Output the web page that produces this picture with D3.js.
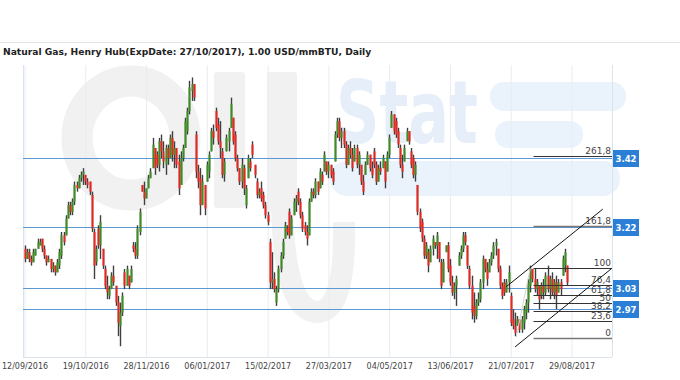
<!DOCTYPE html>
<html>
<head>
<meta charset="utf-8">
<script src="https://cdn.jsdelivr.net/npm/d3@7"></script>
<style>
body { margin: 0; background: #fff; }
svg text { font-family: "DejaVu Sans", Verdana, sans-serif; }
</style>
</head>
<body>
<div id="gas_chart"></div>
<script>
var width = 680, height = 380;
var plotLeft = 23, plotRight = 612, plotTop = 65, plotBottom = 357;

var title = "Natural Gas, Henry Hub(ExpDate: 27/10/2017), 1.00 USD/mmBTU, Daily";

// x axis labels, every 28 bars
var tickIndex = [0, 28, 56, 84, 112, 140, 168, 196, 224, 252];
var tickLabels = ["12/09/2016", "19/10/2016", "28/11/2016", "06/01/2017", "15/02/2017",
                  "27/03/2017", "04/05/2017", "13/06/2017", "21/07/2017", "29/08/2017"];

// daily OHLC
var opens = [
 3.15,3.12,3.14,3.12,3.11,3.13,3.15,3.16,3.18,3.15, 3.13,3.11,3.12,3.09,3.10,3.08,3.10,3.13,3.19,3.19,
 3.24,3.28,3.26,3.29,3.34,3.33,3.36,3.37,3.37,3.35, 3.35,3.31,3.20,3.11,3.21,3.16,3.15,3.09,3.04,3.01,
 3.03,3.07,3.04,2.99,2.92,2.96,3.08,3.04,3.07,3.05, 3.16,3.15,3.13,3.20,3.34,3.32,3.30,3.33,3.36,3.39,
 3.45,3.43,3.40,3.47,3.44,3.40,3.45,3.42,3.48,3.43, 3.45,3.41,3.34,3.42,3.45,3.50,3.56,3.62,3.64,3.49,
 3.38,3.36,3.28,3.34,3.35,3.38,3.44,3.50,3.56,3.52, 3.47,3.44,3.37,3.44,3.47,3.51,3.54,3.49,3.42,3.39,
 3.35,3.39,3.28,3.36,3.41,3.46,3.40,3.35,3.31,3.33, 3.31,3.28,3.25,3.17,3.05,3.06,2.99,3.03,3.09,3.13,
 3.18,3.21,3.26,3.19,3.25,3.29,3.32,3.29,3.25,3.22, 3.20,3.19,3.29,3.32,3.31,3.35,3.33,3.37,3.38,3.41,
 3.38,3.40,3.38,3.41,3.49,3.53,3.48,3.50,3.46,3.40, 3.45,3.43,3.41,3.45,3.40,3.40,3.35,3.37,3.40,3.43,
 3.39,3.44,3.40,3.35,3.39,3.39,3.41,3.38,3.43,3.51, 3.55,3.53,3.50,3.45,3.40,3.41,3.47,3.50,3.44,3.42,
 3.37,3.34,3.26,3.23,3.18,3.13,3.14,3.11,3.15,3.17, 3.16,3.17,3.11,3.05,3.14,3.16,3.10,3.05,3.02,3.04,
 3.10,3.13,3.15,3.19,3.16,3.09,3.04,2.98,2.95,2.99, 3.00,3.05,3.12,3.09,3.08,3.11,3.13,3.16,3.15,3.09,
 3.04,3.05,3.02,3.05,3.01,2.94,2.92,2.92,2.94,2.91, 2.93,2.96,2.99,3.04,3.09,3.06,3.03,3.04,3.01,3.04,
 3.02,3.07,3.03,3.06,3.02,3.05,3.02,3.05,3.07,3.10, 3.10];
var highs = [
 3.16,3.15,3.15,3.13,3.15,3.15,3.18,3.18,3.18,3.16, 3.13,3.13,3.12,3.11,3.10,3.12,3.15,3.20,3.20,3.25,
 3.29,3.29,3.30,3.35,3.35,3.37,3.38,3.39,3.37,3.36, 3.35,3.32,3.21,3.16,3.22,3.25,3.15,3.10,3.07,3.04,
 3.08,3.10,3.04,3.01,2.99,3.02,3.09,3.10,3.07,3.10, 3.17,3.17,3.22,3.27,3.34,3.35,3.33,3.37,3.39,3.48,
 3.45,3.44,3.48,3.49,3.47,3.46,3.46,3.49,3.50,3.47, 3.45,3.43,3.44,3.46,3.54,3.57,3.65,3.66,3.64,3.50,
 3.40,3.39,3.37,3.34,3.41,3.44,3.51,3.52,3.57,3.54, 3.53,3.45,3.42,3.49,3.51,3.60,3.54,3.50,3.43,3.39,
 3.42,3.40,3.34,3.43,3.42,3.47,3.40,3.36,3.33,3.35, 3.32,3.29,3.26,3.18,3.14,3.08,3.04,3.10,3.14,3.18,
 3.23,3.22,3.27,3.25,3.30,3.31,3.33,3.30,3.26,3.23, 3.22,3.30,3.33,3.33,3.36,3.35,3.39,3.38,3.44,3.41,
 3.41,3.40,3.39,3.50,3.54,3.54,3.51,3.51,3.47,3.46, 3.47,3.45,3.46,3.46,3.44,3.40,3.37,3.41,3.44,3.43,
 3.41,3.45,3.41,3.40,3.41,3.43,3.41,3.44,3.49,3.56, 3.55,3.54,3.51,3.46,3.43,3.46,3.51,3.50,3.45,3.43,
 3.41,3.34,3.27,3.24,3.19,3.17,3.15,3.16,3.19,3.17, 3.20,3.17,3.12,3.12,3.16,3.17,3.12,3.07,3.05,3.07,
 3.14,3.16,3.20,3.20,3.16,3.10,3.07,3.02,3.00,3.02, 3.06,3.13,3.12,3.11,3.12,3.14,3.17,3.18,3.15,3.10,
 3.05,3.06,3.06,3.10,3.02,2.97,2.96,2.95,2.94,2.95, 2.98,3.00,3.06,3.10,3.09,3.09,3.06,3.04,3.05,3.06,
 3.08,3.10,3.07,3.08,3.06,3.07,3.06,3.06,3.13,3.15, 3.10];
var lows = [
 3.11,3.12,3.11,3.10,3.11,3.13,3.15,3.16,3.14,3.12, 3.10,3.11,3.08,3.08,3.07,3.08,3.09,3.12,3.16,3.19,
 3.24,3.25,3.25,3.28,3.32,3.33,3.35,3.34,3.34,3.33, 3.31,3.20,3.06,3.10,3.15,3.12,3.09,3.03,3.00,3.00,
 3.03,3.04,2.98,2.89,2.86,2.95,3.03,3.04,3.03,3.05, 3.14,3.12,3.12,3.19,3.32,3.28,3.30,3.33,3.36,3.39,
 3.37,3.39,3.38,3.42,3.39,3.37,3.40,3.42,3.41,3.39, 3.39,3.31,3.34,3.41,3.45,3.49,3.55,3.59,3.59,3.36,
 3.33,3.25,3.28,3.25,3.35,3.36,3.44,3.46,3.50,3.46, 3.42,3.36,3.35,3.44,3.44,3.51,3.46,3.41,3.38,3.34,
 3.33,3.31,3.27,3.36,3.38,3.42,3.36,3.30,3.30,3.29, 3.27,3.24,3.22,3.03,3.03,3.02,2.98,3.02,3.08,3.12,
 3.18,3.19,3.18,3.19,3.25,3.26,3.28,3.24,3.20,3.19, 3.16,3.19,3.29,3.30,3.30,3.31,3.33,3.34,3.38,3.37,
 3.36,3.36,3.34,3.41,3.48,3.47,3.45,3.45,3.39,3.40, 3.42,3.38,3.41,3.39,3.37,3.34,3.31,3.37,3.40,3.38,
 3.36,3.39,3.34,3.35,3.37,3.39,3.33,3.38,3.42,3.51, 3.49,3.48,3.45,3.39,3.36,3.41,3.47,3.46,3.39,3.36,
 3.35,3.25,3.20,3.17,3.12,3.12,3.08,3.11,3.13,3.15, 3.12,3.11,3.03,3.05,3.14,3.08,3.04,3.01,3.00,2.98,
 3.10,3.12,3.14,3.16,3.09,3.03,2.94,2.93,2.94,2.98, 2.99,3.03,3.08,3.04,3.08,3.10,3.12,3.13,3.08,3.03,
 3.00,3.01,3.02,3.02,2.92,2.91,2.89,2.92,2.90,2.90, 2.91,2.94,2.96,3.02,3.05,3.02,3.01,2.97,3.00,3.00,
 3.01,3.02,3.00,3.01,3.00,2.97,3.02,3.01,3.07,3.08, 3.04];
var closes = [
 3.12,3.14,3.12,3.11,3.14,3.15,3.17,3.17,3.15,3.13, 3.11,3.12,3.09,3.10,3.08,3.11,3.14,3.19,3.17,3.24,
 3.28,3.26,3.29,3.34,3.33,3.36,3.37,3.38,3.35,3.34, 3.32,3.21,3.10,3.15,3.16,3.23,3.10,3.04,3.02,3.03,
 3.07,3.05,2.99,2.93,2.96,3.01,3.04,3.09,3.04,3.09, 3.15,3.13,3.21,3.26,3.32,3.30,3.33,3.36,3.38,3.46,
 3.39,3.40,3.47,3.44,3.41,3.45,3.42,3.48,3.43,3.45, 3.40,3.33,3.42,3.45,3.53,3.56,3.63,3.64,3.60,3.38,
 3.35,3.28,3.35,3.27,3.40,3.43,3.50,3.48,3.51,3.47, 3.45,3.37,3.41,3.48,3.50,3.58,3.47,3.42,3.39,3.35,
 3.40,3.33,3.33,3.42,3.39,3.43,3.37,3.31,3.32,3.30, 3.28,3.25,3.23,3.05,3.06,3.03,3.03,3.09,3.13,3.17,
 3.22,3.20,3.19,3.24,3.29,3.30,3.29,3.25,3.21,3.20, 3.18,3.29,3.32,3.31,3.35,3.32,3.38,3.35,3.43,3.38,
 3.40,3.37,3.35,3.49,3.53,3.48,3.50,3.46,3.40,3.45, 3.43,3.39,3.45,3.40,3.43,3.35,3.32,3.40,3.43,3.39,
 3.37,3.40,3.35,3.39,3.38,3.42,3.35,3.43,3.48,3.55, 3.50,3.49,3.46,3.40,3.38,3.45,3.50,3.47,3.40,3.37,
 3.40,3.26,3.21,3.18,3.13,3.16,3.10,3.15,3.18,3.16, 3.19,3.12,3.04,3.11,3.16,3.09,3.05,3.02,3.04,3.06,
 3.13,3.15,3.19,3.17,3.10,3.04,2.96,2.95,2.99,3.00, 3.05,3.12,3.09,3.06,3.11,3.13,3.16,3.17,3.09,3.04,
 3.01,3.02,3.05,3.08,2.93,2.92,2.90,2.94,2.91,2.94, 2.97,2.99,3.05,3.09,3.06,3.03,3.05,3.00,3.04,3.02,
 3.07,3.03,3.06,3.02,3.05,3.01,3.05,3.03,3.12,3.14, 3.05];

// horizontal levels with price tags
var levels = [3.421, 3.216, 3.032, 2.970];

// fibonacci extension (from low to high of the last swing)
var fibLow = 2.886, fibHigh = 3.092, fibStart = 234.5;
var fibRatios = [0, 23.6, 38.2, 50, 61.8, 76.4, 100, 161.8, 261.8];

// trend channel, [bar index, price]
var channelUpper = [[221.9, 3.037], [266.4, 3.268]];
var channelLower = [[226.0, 2.858], [270.6, 3.092]];
var fibAnchor = [[226.5, 2.886], [233.0, 3.092]];

var svg = d3.select("#gas_chart")
    .append("svg")
    .attr("width", width)
    .attr("height", height);

var x = d3.scaleLinear().domain([0, 252]).range([24.5, 571.5]);
var y = d3.scaleLinear().domain([2.828, 3.697]).range([plotBottom, plotTop]);

// title ------------------------------------------------------------
svg.append("line")
    .attr("x1", 0).attr("x2", width)
    .attr("y1", 42.5).attr("y2", 42.5)
    .attr("stroke", "#e4e4e4");

var t = svg.append("text")
    .attr("x", 3).attr("y", 55)
    .attr("font-size", 10)
    .attr("font-weight", "bold")
    .attr("fill", "#222")
    .text(title);
var tl = t.node().getComputedTextLength();
t.attr("font-size", 10 * 369 / tl);

// watermark (logo behind the plot) ---------------------------------
var wm = svg.append("g");
var grey = "#f1f1f1", pale = "#eaf2fb";
wm.append("ellipse")
    .attr("cx", 131).attr("cy", 138).attr("rx", 54).attr("ry", 57)
    .attr("fill", "none").attr("stroke", grey).attr("stroke-width", 31);
wm.append("rect").attr("x", 214).attr("y", 72).attr("width", 31).attr("height", 136)
    .attr("rx", 3).attr("fill", grey);
wm.append("rect").attr("x", 267).attr("y", 72).attr("width", 30).attr("height", 140)
    .attr("rx", 3).attr("fill", grey);
wm.append("path")
    .attr("d", "M282,205 Q284,312 318,312 Q346,310 344,222")
    .attr("fill", "none").attr("stroke", grey).attr("stroke-width", 22);
wm.append("rect").attr("x", 490).attr("y", 82).attr("width", 136).attr("height", 29)
    .attr("rx", 14).attr("fill", pale);
wm.append("rect").attr("x", 495).attr("y", 121).attr("width", 88).attr("height", 27)
    .attr("rx", 13).attr("fill", pale);
wm.append("rect").attr("x", 330).attr("y", 161).attr("width", 290).attr("height", 35)
    .attr("rx", 17).attr("fill", pale);
wm.append("text")
    .attr("x", 336).attr("y", 143)
    .attr("font-size", 88)
    .attr("font-weight", "bold")
    .attr("font-family", "Liberation Sans, Arial, sans-serif")
    .attr("textLength", 142)
    .attr("lengthAdjust", "spacingAndGlyphs")
    .attr("fill", "#e6eff9")
    .text("Stat");

// grid and axis ----------------------------------------------------
svg.append("g")
    .attr("transform", "translate(0," + plotBottom + ")")
    .call(d3.axisBottom(x).tickValues(tickIndex).tickSize(-(plotBottom - plotTop)).tickFormat(""))
    .call(g => g.select(".domain").remove())
    .call(g => g.selectAll(".tick line").attr("stroke", "#e8edf2"));

var border = svg.append("g").attr("stroke", "#dbe4ed").attr("fill", "none");
border.append("line").attr("x1", plotLeft + 0.5).attr("x2", plotLeft + 0.5).attr("y1", plotTop).attr("y2", plotBottom);
border.append("line").attr("x1", plotRight + 0.5).attr("x2", plotRight + 0.5).attr("y1", plotTop).attr("y2", plotBottom);
border.append("line").attr("x1", plotLeft).attr("x2", plotRight).attr("y1", plotBottom + 0.5).attr("y2", plotBottom + 0.5);

svg.append("g")
    .attr("transform", "translate(0," + (plotBottom + 4) + ")")
    .call(d3.axisBottom(x).tickValues(tickIndex).tickSize(0).tickPadding(2)
        .tickFormat(function(d, i) { return tickLabels[i]; }))
    .call(g => g.select(".domain").remove())
    .call(g => g.selectAll("text")
        .attr("font-family", "DejaVu Sans, Verdana, sans-serif")
        .attr("font-size", 8)
        .attr("fill", "#444"));

// level lines
svg.selectAll(".level")
    .data(levels).enter()
    .append("line")
    .attr("class", "level")
    .attr("x1", plotLeft).attr("x2", plotRight)
    .attr("y1", d => Math.round(y(d)) + 0.5)
    .attr("y2", d => Math.round(y(d)) + 0.5)
    .attr("stroke", "#5a98d6");

// candles ----------------------------------------------------------
var bars = d3.range(closes.length);
var candles = svg.append("g");
candles.selectAll("line")
    .data(bars).enter()
    .append("line")
    .attr("x1", i => Math.round(x(i)) + 0.5)
    .attr("x2", i => Math.round(x(i)) + 0.5)
    .attr("y1", i => y(highs[i]))
    .attr("y2", i => y(lows[i]))
    .attr("stroke", "#3f3f3f")
    .attr("stroke-width", 1.4);
candles.selectAll("rect")
    .data(bars).enter()
    .append("rect")
    .attr("x", i => Math.round(x(i)) - 0.5)
    .attr("width", 2)
    .attr("y", i => y(Math.max(opens[i], closes[i])))
    .attr("height", i => Math.max(1, Math.abs(y(opens[i]) - y(closes[i]))))
    .attr("fill", i => closes[i] >= opens[i] ? "#3d8e22" : "#e8261f");

// fibonacci levels -------------------------------------------------
var fibPrice = function(r) { return fibLow + (fibHigh - fibLow) * r / 100; };
var fib = svg.append("g");
fib.selectAll("line")
    .data(fibRatios).enter()
    .append("line")
    .attr("x1", x(fibStart)).attr("x2", plotRight)
    .attr("y1", d => Math.round(y(fibPrice(d))) + 0.5)
    .attr("y2", d => Math.round(y(fibPrice(d))) + 0.5)
    .attr("stroke", d => (d == 0 || d == 161.8) ? "#777" : "#333")
    .attr("stroke-width", d => (d == 0 || d == 161.8) ? 1.6 : 1);
fib.selectAll("text")
    .data(fibRatios).enter()
    .append("text")
    .attr("x", plotRight - 1)
    .attr("y", d => Math.round(y(fibPrice(d))) - 2)
    .attr("text-anchor", "end")
    .attr("font-size", 9)
    .attr("fill", "#444")
    .text(d => String(d).replace(".", ","));

// channel lines
var line = d3.line().x(d => x(d[0])).y(d => y(d[1]));
svg.append("path").attr("d", line(fibAnchor)).attr("fill", "none").attr("stroke", "#d4d4d4");
[channelUpper, channelLower].forEach(function(c) {
    svg.append("path")
        .attr("d", line(c))
        .attr("fill", "none")
        .attr("stroke", "#111")
        .attr("stroke-width", 1);
});

// price tags on the right
var tags = svg.selectAll(".tag")
    .data(levels).enter()
    .append("g")
    .attr("class", "tag")
    .attr("transform", d => "translate(" + (plotRight + 1) + "," + Math.round(y(d)) + ")");
tags.append("rect")
    .attr("x", 0).attr("y", -8)
    .attr("width", 26).attr("height", 17)
    .attr("fill", "#2b7fd6");
tags.append("text")
    .attr("x", 13).attr("y", 4)
    .attr("text-anchor", "middle")
    .attr("font-size", 8.5)
    .attr("font-weight", "bold")
    .attr("fill", "#fff")
    .text(d => d.toFixed(2));
</script>
</body>
</html>
